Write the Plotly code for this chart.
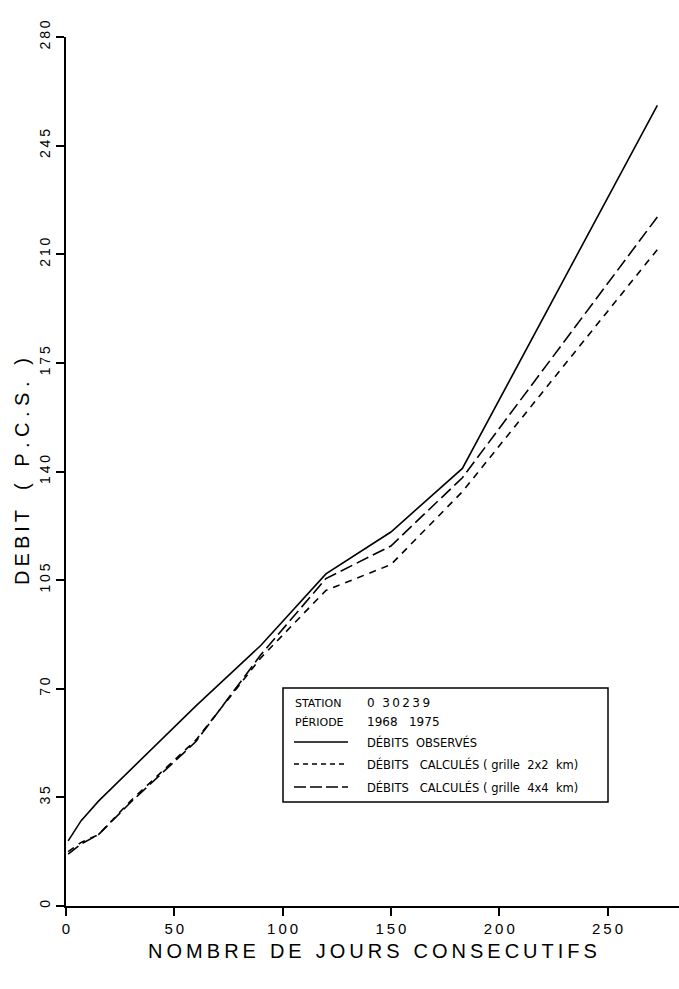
import plotly.graph_objects as go

# ---- data ----
days = [1, 7, 15, 30, 60, 90, 120, 150, 183, 273]
observes = [21, 27.5, 33.8, 44, 64.5, 84, 107, 120.5, 141, 258]
calc_2x2 = [17.5, 20.5, 23, 34, 53.5, 80, 101.7, 110, 133.5, 211.5]
calc_4x4 = [16.7, 20, 23, 33.5, 53, 81, 105.5, 116, 138, 222]

x_ticks = [0, 50, 100, 150, 200, 250]
y_ticks = [0, 35, 70, 105, 140, 175, 210, 245, 280]

W, H = 679, 989
L, R, T, B = 66, 0, 37, 83
PW, PH = W - L - R, H - T - B

def px(x):
    return (x - L) / PW

def py(y):
    return (H - B - y) / PH

def spaced(s, sep="\u2009"):
    return sep.join(list(s))

FONT = "Liberation Sans"
LFONT = "DejaVu Sans"

fig = go.Figure()
fig.add_trace(go.Scatter(x=days, y=observes, mode="lines",
                         line=dict(color="black", width=1.6), name="obs"))
fig.add_trace(go.Scatter(x=days, y=calc_2x2, mode="lines",
                         line=dict(color="black", width=1.6, dash="7px,6px"), name="2x2"))
fig.add_trace(go.Scatter(x=days, y=calc_4x4, mode="lines",
                         line=dict(color="black", width=1.6, dash="13px,5px"), name="4x4"))

fig.update_layout(
    width=W, height=H,
    margin=dict(l=L, r=R, t=T, b=B, pad=0),
    paper_bgcolor="white", plot_bgcolor="white",
    showlegend=False,
    font=dict(family=FONT, color="black"),
    xaxis=dict(range=[0, 283], showgrid=False, zeroline=False,
               showline=True, linecolor="black", linewidth=2,
               ticks="outside", ticklen=8, tickwidth=1.5, tickcolor="black",
               tickvals=x_ticks, ticktext=[spaced(str(v)) for v in x_ticks],
               tickfont=dict(size=15, family=FONT),
               title=dict(text=spaced("NOMBRE") + "\u2002\u2009" + spaced("DE") + "\u2002\u2009"
                          + spaced("JOURS") + "\u2002\u2009" + spaced("CONSECUTIFS"),
                          font=dict(size=20, family=FONT), standoff=8)),
    yaxis=dict(range=[0, 280], showgrid=False, zeroline=False,
               showline=True, linecolor="black", linewidth=2,
               ticks="outside", ticklen=8, tickwidth=1.5, tickcolor="black",
               tickvals=y_ticks, ticktext=[spaced(str(v)) for v in y_ticks],
               tickangle=-90, ticklabelstandoff=0,
               tickfont=dict(size=14, family=FONT),
               title=dict(text=spaced("DEBIT") + "\u2003" + spaced("( P.C.S. )", " "),
                          font=dict(size=20, family=FONT), standoff=2)),
)

# legend box
fig.add_shape(type="rect", xref="paper", yref="paper",
              x0=px(283), x1=px(608), y0=py(802), y1=py(688),
              line=dict(color="black", width=1.5), fillcolor="white", layer="above")

rows = [
    (703, "STATION", "0  3\u20090\u20092\u20093\u20099", None, 12),
    (722, "PÉRIODE", "1968   1975", None, 12),
    (742, None, "DÉBITS  OBSERVÉS", "solid", 11.5),
    (764, None, "DÉBITS   CALCULÉS ( grille  2x2  km)", "5px,4px", 11.5),
    (787, None, "DÉBITS   CALCULÉS ( grille  4x4  km)", "12px,4px", 11.5),
]
for y, left, right, dash, fs in rows:
    if left:
        fig.add_annotation(x=px(293), y=py(y), xref="paper", yref="paper",
                           text=left, showarrow=False, xanchor="left", yanchor="middle",
                           font=dict(size=11, family=LFONT))
    fig.add_annotation(x=px(365), y=py(y), xref="paper", yref="paper",
                       text=right, showarrow=False, xanchor="left", yanchor="middle",
                       font=dict(size=fs, family=LFONT))
    if dash:
        fig.add_shape(type="line", xref="paper", yref="paper",
                      x0=px(294), x1=px(348), y0=py(y), y1=py(y),
                      line=dict(color="black", width=1.3, dash=dash), layer="above")

fig.write_html("out.html")
